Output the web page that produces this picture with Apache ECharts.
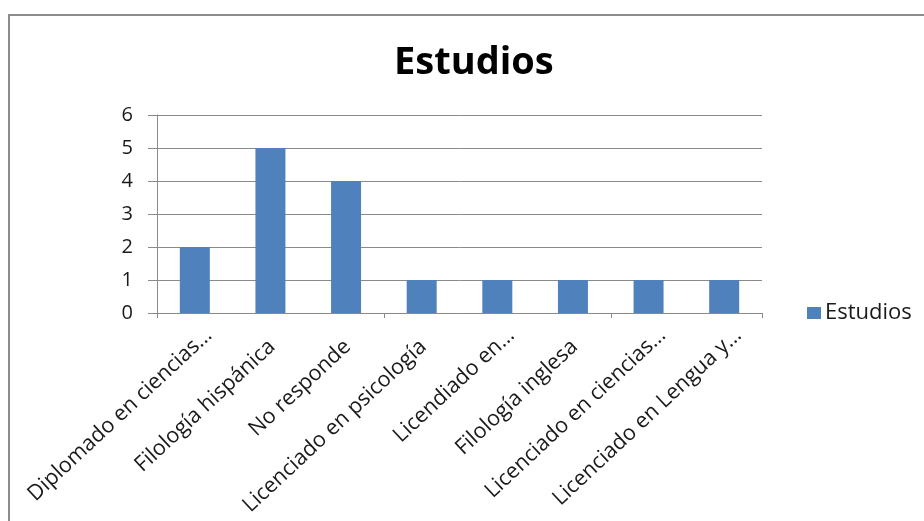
<!DOCTYPE html>
<html>
<head>
<meta charset="utf-8">
<script src="https://cdn.jsdelivr.net/npm/echarts@6/dist/echarts.min.js"></script>
<style>
  html, body { margin: 0; padding: 0; background: #fff; }
  #chart { width: 924px; height: 521px; }
</style>
</head>
<body>
<div id="chart"></div>
<script>
// Categories of studies and the count of responses for each
const categories = [
  'Diplomado en ciencias…',
  'Filología hispánica',
  'No responde',
  'Licenciado en psicología',
  'Licendiado en…',
  'Filología inglesa',
  'Licenciado en ciencias…',
  'Licenciado en Lengua y…'
];
const estudios = [2, 5, 4, 1, 1, 1, 1, 1];
const seriesName = 'Estudios';
const titleText = 'Estudios';

const FONT = '"Open Sans", sans-serif';
const GRID_COLOR = '#8a8a8a';
const LABEL_COLOR = '#1a1a1a';
const LABEL_SIZE = 21.5;

// Plot area, and a twin area nudged right that only carries the slanted category labels
const plot = { left: 157, right: 162, top: 115, bottom: 208 };
const labelShift = 14;

const chart = echarts.init(document.getElementById('chart'), null, { renderer: 'canvas' });
chart.setOption({
  animation: false,
  backgroundColor: '#fff',
  textStyle: { fontFamily: FONT },
  graphic: [{
    type: 'rect',
    shape: { x: 9, y: 15, width: 1000, height: 700 },
    style: { fill: 'none', stroke: '#8c8c8c', lineWidth: 2 },
    silent: true
  }],
  title: {
    text: titleText,
    left: 389,
    top: 39,
    textStyle: { fontFamily: FONT, fontWeight: 'bold', fontSize: 38, color: '#000' }
  },
  legend: {
    data: [seriesName],
    left: 802,
    top: 297,
    icon: 'rect',
    itemWidth: 14,
    itemHeight: 12,
    itemGap: 6,
    textStyle: { fontFamily: FONT, fontSize: 22, color: LABEL_COLOR, padding: [0, 0, 0, -1] }
  },
  grid: [
    { left: plot.left, right: plot.right, top: plot.top, bottom: plot.bottom, containLabel: false },
    { left: plot.left + labelShift, right: plot.right - labelShift, top: plot.top, bottom: plot.bottom, containLabel: false }
  ],
  xAxis: [{
    type: 'category',
    gridIndex: 0,
    data: categories,
    boundaryGap: true,
    axisLine: { lineStyle: { color: GRID_COLOR, width: 1 } },
    axisTick: { show: true, length: 5, alignWithLabel: false, lineStyle: { color: GRID_COLOR } },
    axisLabel: { show: false }
  }, {
    type: 'category',
    gridIndex: 1,
    data: categories,
    boundaryGap: true,
    axisLine: { show: false },
    axisTick: { show: false },
    splitLine: { show: false },
    axisLabel: {
      rotate: 43,
      interval: 0,
      margin: 19,
      fontFamily: FONT,
      fontSize: LABEL_SIZE,
      color: LABEL_COLOR,
      // labels cut with an ellipsis run a little further past the tick than full ones
      formatter: (v) => v.endsWith('…') ? '{e|' + v + '}' : '{t|' + v + '}',
      rich: {
        e: { fontFamily: FONT, fontSize: LABEL_SIZE, color: LABEL_COLOR },
        t: { fontFamily: FONT, fontSize: LABEL_SIZE, color: LABEL_COLOR, padding: [0, 17, 0, 0] }
      }
    }
  }],
  yAxis: [{
    type: 'value',
    gridIndex: 0,
    min: 0,
    max: 6,
    interval: 1,
    axisLine: { show: true, lineStyle: { color: GRID_COLOR, width: 1 } },
    axisTick: { show: true, length: 9, inside: false, lineStyle: { color: GRID_COLOR } },
    splitLine: { show: true, lineStyle: { color: GRID_COLOR, width: 1 } },
    axisLabel: { margin: 24, fontFamily: FONT, fontSize: 20, color: LABEL_COLOR }
  }, {
    type: 'value',
    gridIndex: 1,
    min: 0,
    max: 6,
    interval: 1,
    show: false
  }],
  series: [{
    name: seriesName,
    type: 'bar',
    xAxisIndex: 0,
    yAxisIndex: 0,
    data: estudios,
    barWidth: 30,
    itemStyle: { color: '#4F81BD' }
  }]
});
</script>
</body>
</html>
